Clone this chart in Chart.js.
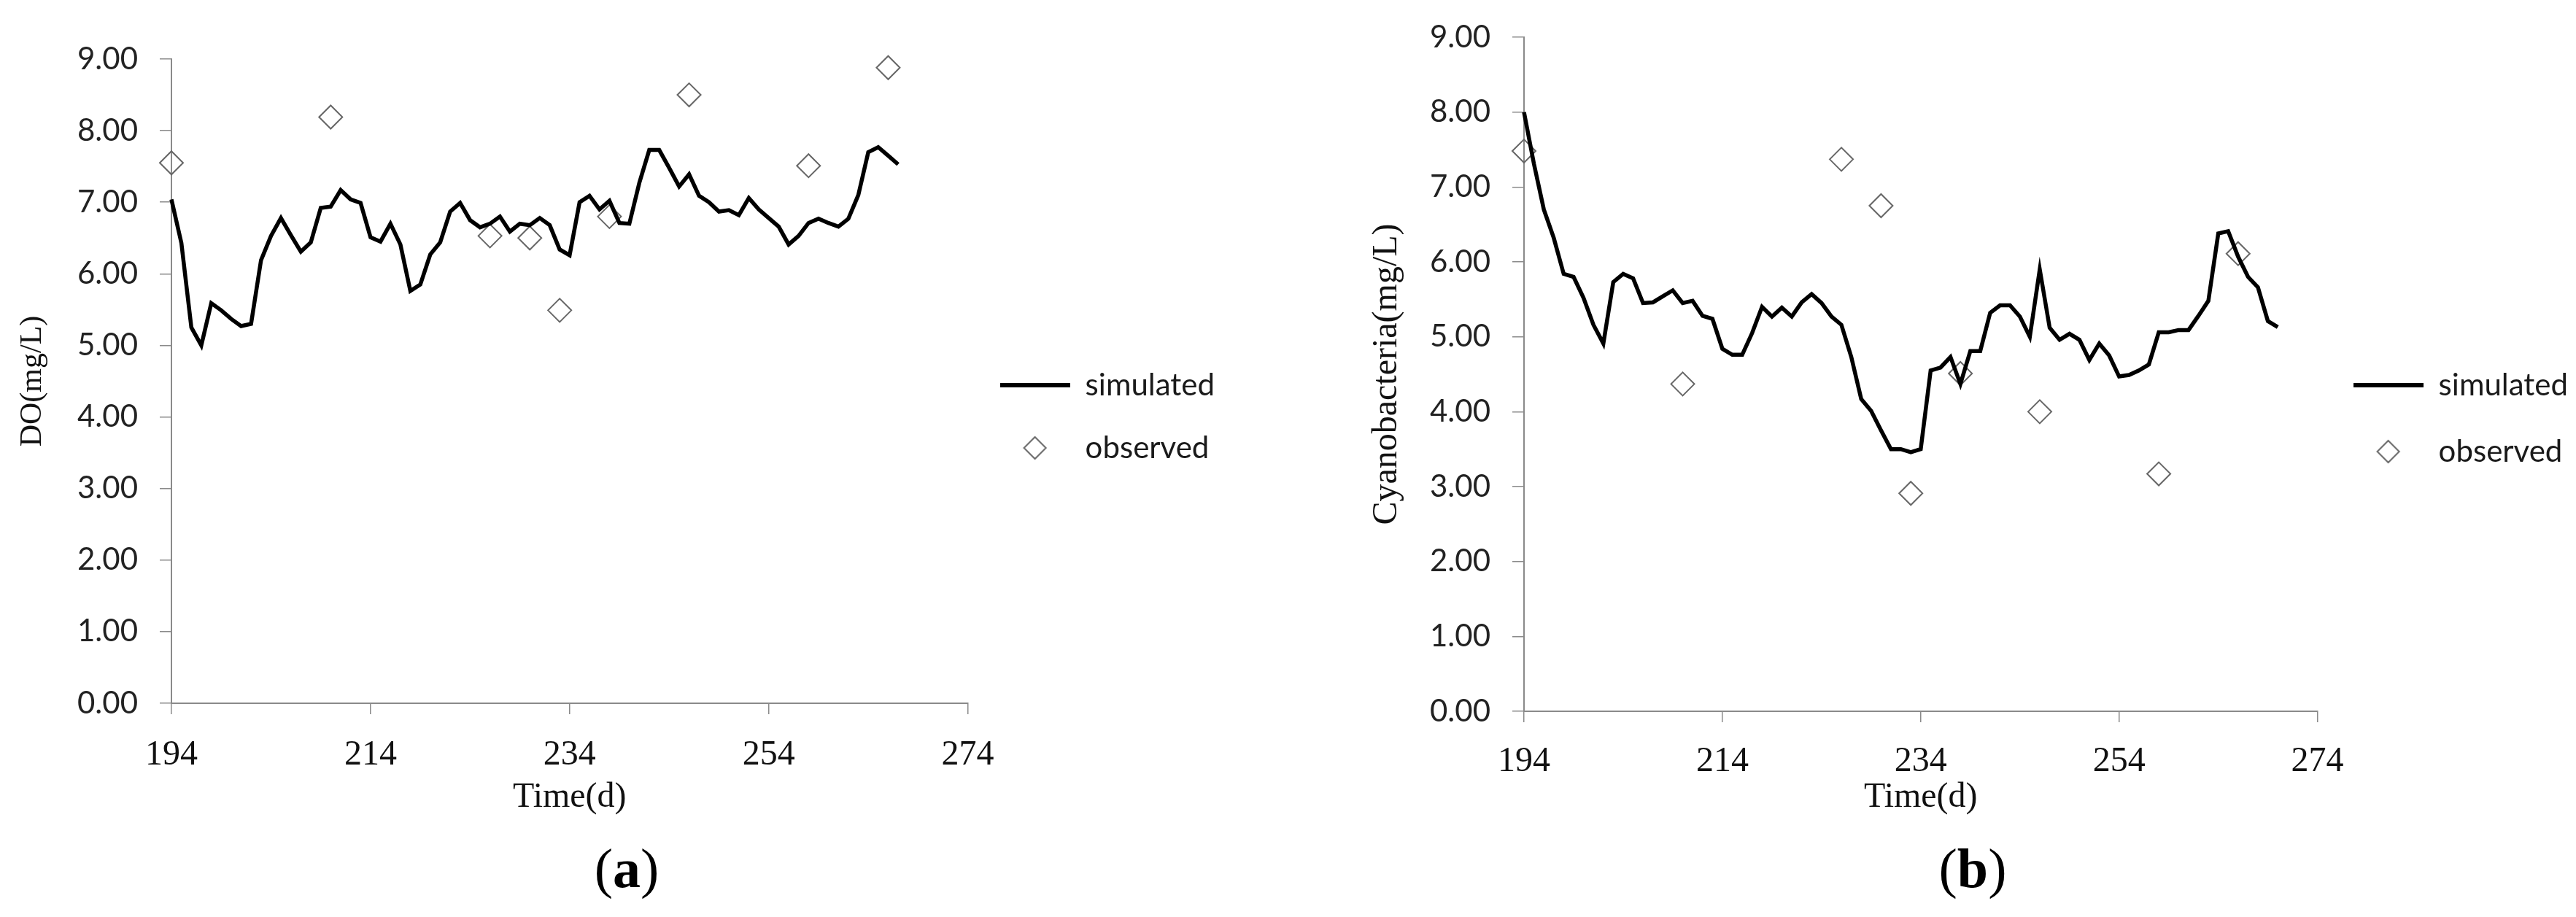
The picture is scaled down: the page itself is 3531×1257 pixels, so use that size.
<!DOCTYPE html>
<html>
<head>
<meta charset="utf-8">
<title>DO and Cyanobacteria, simulated vs observed</title>
<script src="https://cdn.jsdelivr.net/npm/chart.js@4.4.1/dist/chart.umd.min.js"></script>
<style>
  html, body { margin: 0; padding: 0; background: #fff; }
  body { width: 3531px; height: 1257px; position: relative; overflow: hidden; }
  .panel { position: absolute; top: 0; height: 1257px; }
  .caption {
    position: absolute; top: 1152px; transform: translateX(-50%);
    font-family: 'Liberation Serif', serif; font-size: 76px; line-height: 1; color: #000;
  }
</style>
</head>
<body>
<div class="panel" style="left:0;width:1765px"><canvas id="chartA"></canvas></div>
<div class="panel" style="left:1765px;width:1766px"><canvas id="chartB"></canvas></div>
<div class="caption" style="left:859px">(<b>a</b>)</div>
<div class="caption" style="left:2704px">(<b>b</b>)</div>
<script>
// simulated DO, one value per day
const simDaysA = [194, 195, 196, 197, 198, 199, 200, 201, 202, 203, 204, 205, 206, 207, 208, 209, 210, 211, 212, 213,
  214, 215, 216, 217, 218, 219, 220, 221, 222, 223, 224, 225, 226, 227, 228, 229, 230, 231, 232, 233,
  234, 235, 236, 237, 238, 239, 240, 241, 242, 243, 244, 245, 246, 247, 248, 249, 250, 251, 252, 253,
  254, 255, 256, 257, 258, 259, 260, 261, 262, 263, 264, 265, 266, 267];
const simDO = [7.04, 6.43, 5.25, 5.00, 5.59, 5.49, 5.37, 5.27, 5.30, 6.19, 6.53, 6.78, 6.54, 6.31, 6.44, 6.92, 6.94, 7.17, 7.04, 6.99,
  6.51, 6.45, 6.70, 6.41, 5.76, 5.85, 6.27, 6.44, 6.87, 6.99, 6.75, 6.65, 6.70, 6.80, 6.59, 6.70, 6.68, 6.78, 6.68, 6.34,
  6.26, 7.00, 7.09, 6.90, 7.02, 6.71, 6.70, 7.27, 7.73, 7.73, 7.48, 7.22, 7.39, 7.09, 7.00, 6.87, 6.89, 6.82, 7.06, 6.90,
  6.78, 6.66, 6.41, 6.53, 6.71, 6.77, 6.71, 6.66, 6.77, 7.10, 7.70, 7.77, 7.65, 7.53];

// simulated cyanobacteria, one value per day
const simDaysB = [194, 195, 196, 197, 198, 199, 200, 201, 202, 203, 204, 205, 206, 207, 208, 209, 210, 211, 212, 213,
  214, 215, 216, 217, 218, 219, 220, 221, 222, 223, 224, 225, 226, 227, 228, 229, 230, 231, 232, 233,
  234, 235, 236, 237, 238, 239, 240, 241, 242, 243, 244, 245, 246, 247, 248, 249, 250, 251, 252, 253,
  254, 255, 256, 257, 258, 259, 260, 261, 262, 263, 264, 265, 266, 267, 268, 269, 270];
const simCyano = [8.00, 7.31, 6.70, 6.32, 5.84, 5.80, 5.52, 5.16, 4.91, 5.73, 5.84, 5.78, 5.45, 5.46, 5.54, 5.62, 5.45, 5.48, 5.28, 5.24,
  4.84, 4.76, 4.76, 5.05, 5.40, 5.27, 5.39, 5.27, 5.46, 5.57, 5.45, 5.27, 5.16, 4.73, 4.17, 4.01, 3.75, 3.50, 3.50, 3.46,
  3.50, 4.55, 4.59, 4.73, 4.37, 4.81, 4.81, 5.32, 5.42, 5.42, 5.27, 5.00, 5.90, 5.12, 4.96, 5.04, 4.96, 4.69, 4.91, 4.75,
  4.47, 4.49, 4.55, 4.63, 5.06, 5.06, 5.09, 5.09, 5.28, 5.48, 6.38, 6.41, 6.07, 5.80, 5.66, 5.21, 5.13];

// field samples
const obsDays = [194, 210, 226, 230, 233, 238, 246, 258, 266];
const obsDO = [7.55, 8.19, 6.53, 6.50, 5.49, 6.80, 8.50, 7.51, 8.88];
const obsCyano = [7.48, 4.37, 7.37, 6.75, 2.91, 4.51, 4.00, 3.17, 6.11];

const xTicks = [194, 214, 234, 254, 274];
const yTicks = [0, 1, 2, 3, 4, 5, 6, 7, 8, 9];

const axisGray = '#8a8a8a';
const markerGray = '#666666';

function pairs(xs, ys) {
  return xs.map((x, i) => ({ x: x, y: ys[i] }));
}

// legend icons: a short thick line and an open diamond
function lineIcon() {
  const c = document.createElement('canvas');
  c.width = 96; c.height = 6;
  const g = c.getContext('2d');
  g.fillStyle = '#000';
  g.fillRect(0, 0, 96, 6);
  return c;
}

function diamondIcon() {
  const c = document.createElement('canvas');
  c.width = 36; c.height = 36;
  const g = c.getContext('2d');
  g.strokeStyle = markerGray;
  g.lineWidth = 2;
  g.beginPath();
  g.moveTo(18, 3); g.lineTo(33, 18); g.lineTo(18, 33); g.lineTo(3, 18);
  g.closePath();
  g.stroke();
  return c;
}

const legendIcons = [lineIcon(), diamondIcon()];

function makeChart(id, p) {
  return new Chart(document.getElementById(id), {
    type: 'line',
    data: {
      datasets: [
        {
          label: 'simulated',
          data: pairs(p.simDays, p.simValues),
          borderColor: '#000',
          borderWidth: 5.5,
          pointRadius: 0,
          tension: 0,
          fill: false,
          clip: false
        },
        {
          label: 'observed',
          data: pairs(obsDays, p.obsValues),
          showLine: false,
          pointStyle: 'rectRot',
          pointRadius: 16,
          pointBorderWidth: 2,
          pointBorderColor: markerGray,
          pointBackgroundColor: 'rgba(0,0,0,0)',
          borderColor: markerGray,
          backgroundColor: 'rgba(0,0,0,0)',
          clip: false
        }
      ]
    },
    options: {
      responsive: true,
      maintainAspectRatio: false,
      animation: false,
      layout: { padding: p.padding },
      plugins: {
        tooltip: { enabled: false },
        legend: {
          position: 'right',
          fullSize: false,
          align: 'center',
          // empty title only used to push the two entries down
          title: { display: true, text: '', font: { size: 10, lineHeight: 1.2 }, padding: { top: p.legendOffset, bottom: 0 } },
          labels: {
            usePointStyle: true,
            pointStyleWidth: 96,
            padding: p.legendGap,
            color: '#1a1a1a',
            font: { family: 'Lato', size: 42 },
            generateLabels: chart => chart.data.datasets.map((ds, i) => ({
              text: ds.label,
              pointStyle: legendIcons[i],
              fillStyle: 'rgba(0,0,0,0)',
              strokeStyle: 'rgba(0,0,0,0)',
              lineWidth: 0,
              fontColor: '#1a1a1a',
              hidden: false,
              datasetIndex: i
            }))
          }
        }
      },
      scales: {
        x: {
          type: 'linear',
          min: 194,
          max: 274,
          afterBuildTicks: axis => { axis.ticks = xTicks.map(v => ({ value: v })); },
          grid: { drawOnChartArea: false, drawTicks: true, tickLength: 15, color: axisGray, lineWidth: 1.5 },
          border: { color: axisGray, width: 2 },
          ticks: {
            color: '#111',
            padding: p.xTickPad,
            maxRotation: 0,
            autoSkip: false,
            font: { family: 'Liberation Serif', size: 48, lineHeight: 1 }
          },
          title: {
            display: true,
            text: 'Time(d)',
            color: '#111',
            font: { family: 'Liberation Serif', size: 48, lineHeight: 1 },
            padding: { top: p.xTitlePad, bottom: 0 }
          }
        },
        y: {
          min: 0,
          max: 9,
          afterBuildTicks: axis => { axis.ticks = yTicks.map(v => ({ value: v })); },
          grid: { drawOnChartArea: false, drawTicks: true, tickLength: 16, color: axisGray, lineWidth: 1.5 },
          border: { color: axisGray, width: 2 },
          ticks: {
            color: '#222',
            padding: 30,
            font: { family: 'Lato', size: 42, lineHeight: 1 },
            callback: v => Number(v).toFixed(2)
          },
          title: {
            display: true,
            text: p.yTitle,
            color: '#111',
            font: { family: 'Liberation Serif', size: p.yTitleSize, lineHeight: 1 },
            padding: { top: 0, bottom: p.yTitlePad }
          }
        }
      }
    }
  });
}

makeChart('chartA', {
  simDays: simDaysA, simValues: simDO, obsValues: obsDO,
  yTitle: 'DO(mg/L)', yTitleSize: 42, yTitlePad: 10,
  padding: { top: 81, bottom: 140, left: 24, right: 90 },
  xTickPad: 32, xTitlePad: -22,
  legendGap: 44, legendOffset: 85
});

makeChart('chartB', {
  simDays: simDaysB, simValues: simCyano, obsValues: obsCyano,
  yTitle: 'Cyanobacteria(mg/L)', yTitleSize: 48, yTitlePad: 5,
  padding: { top: 45, bottom: 140, left: 112, right: 1 },
  xTickPad: 30, xTitlePad: -29,
  legendGap: 49, legendOffset: 109
});
</script>
</body>
</html>
